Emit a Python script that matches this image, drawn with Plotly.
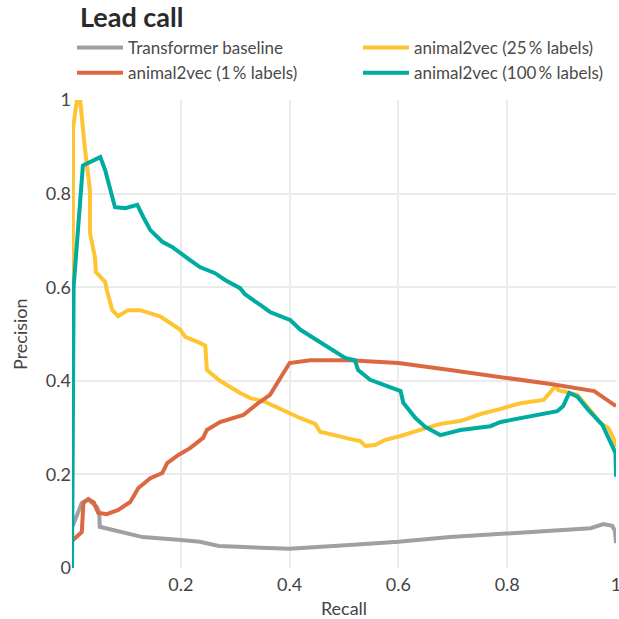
import plotly.graph_objects as go

# Transformer baseline
base_r = [0.0, 0.002, 0.018, 0.03, 0.046, 0.05, 0.051, 0.09, 0.13, 0.2, 0.235, 0.27, 0.345, 0.4, 0.51, 0.6, 0.695, 0.79, 0.88, 0.953, 0.977, 0.993, 0.998, 1.0]
base_p = [0.09, 0.092, 0.139, 0.147, 0.13, 0.118, 0.088, 0.077, 0.066, 0.06, 0.056, 0.047, 0.043, 0.041, 0.049, 0.056, 0.066, 0.073, 0.079, 0.085, 0.094, 0.09, 0.08, 0.053]

# animal2vec (1 % labels)
a1_r = [0.0, 0.002, 0.018, 0.021, 0.03, 0.04, 0.048, 0.064, 0.085, 0.107, 0.122, 0.144, 0.166, 0.175, 0.195, 0.217, 0.241, 0.248, 0.272, 0.315, 0.343, 0.364, 0.4, 0.438, 0.51, 0.6, 0.695, 0.79, 0.88, 0.96, 1.0]
a1_p = [0.06, 0.06, 0.077, 0.139, 0.147, 0.14, 0.118, 0.115, 0.124, 0.141, 0.171, 0.192, 0.203, 0.224, 0.241, 0.256, 0.278, 0.295, 0.312, 0.327, 0.353, 0.37, 0.438, 0.444, 0.444, 0.438, 0.423, 0.408, 0.393, 0.378, 0.346]

# animal2vec (25 % labels)
a25_r = [0.0, 0.002, 0.009, 0.015, 0.024, 0.033, 0.033, 0.042, 0.044, 0.061, 0.064, 0.074, 0.085, 0.103, 0.125, 0.162, 0.199, 0.208, 0.235, 0.245, 0.248, 0.272, 0.309, 0.328, 0.355, 0.379, 0.42, 0.447, 0.456, 0.511, 0.53, 0.539, 0.557, 0.576, 0.604, 0.64, 0.677, 0.714, 0.751, 0.788, 0.824, 0.867, 0.889, 0.894, 0.929, 0.957, 0.971, 0.986, 0.995, 1.0]
a25_p = [0.06, 0.94, 1.0, 1.0, 0.893, 0.808, 0.716, 0.665, 0.632, 0.611, 0.594, 0.551, 0.538, 0.551, 0.551, 0.538, 0.509, 0.494, 0.481, 0.475, 0.423, 0.4, 0.374, 0.363, 0.355, 0.342, 0.32, 0.308, 0.291, 0.276, 0.271, 0.261, 0.263, 0.274, 0.282, 0.295, 0.308, 0.314, 0.329, 0.34, 0.352, 0.359, 0.389, 0.38, 0.37, 0.331, 0.31, 0.299, 0.278, 0.259]

# animal2vec (100 % labels)
a100_r = [0.0, 0.001, 0.003, 0.02, 0.052, 0.061, 0.079, 0.098, 0.12, 0.131, 0.144, 0.166, 0.184, 0.217, 0.235, 0.263, 0.282, 0.309, 0.318, 0.346, 0.364, 0.392, 0.401, 0.42, 0.438, 0.456, 0.484, 0.502, 0.52, 0.526, 0.548, 0.576, 0.604, 0.609, 0.631, 0.65, 0.677, 0.714, 0.769, 0.788, 0.843, 0.892, 0.903, 0.914, 0.929, 0.949, 0.975, 0.986, 0.999, 1.0]
a100_p = [0.0, 0.4, 0.6, 0.86, 0.878, 0.85, 0.771, 0.769, 0.776, 0.75, 0.722, 0.697, 0.686, 0.658, 0.643, 0.63, 0.615, 0.598, 0.585, 0.562, 0.547, 0.534, 0.53, 0.509, 0.496, 0.483, 0.462, 0.449, 0.444, 0.423, 0.402, 0.391, 0.378, 0.353, 0.321, 0.301, 0.284, 0.295, 0.303, 0.312, 0.325, 0.335, 0.346, 0.374, 0.366, 0.338, 0.306, 0.28, 0.246, 0.195]

x_ticks = [0.2, 0.4, 0.6, 0.8, 1.0]
x_tick_labels = ["0.2", "0.4", "0.6", "0.8", "1"]
y_ticks = [0, 0.2, 0.4, 0.6, 0.8, 1.0]
y_tick_labels = ["0", "0.2", "0.4", "0.6", "0.8", "1"]

FONT = "Lato"
fig = go.Figure()
series = [
    ("Transformer baseline", base_r, base_p, "#a09fa5", "legend"),
    ("animal2vec (1\u2009% labels)", a1_r, a1_p, "#dc6842", "legend"),
    ("animal2vec (25\u2009% labels)", a25_r, a25_p, "#fec432", "legend2"),
    ("animal2vec (100\u2009% labels)", a100_r, a100_p, "#00aba2", "legend2"),
]
draw_order = [0, 2, 1, 3]
for i in draw_order:
    name, r, p, c, lg = series[i]
    fig.add_trace(go.Scatter(x=r, y=p, mode="lines", name=name, cliponaxis=False,
                             line=dict(color=c, width=4), legend=lg, legendrank=i))

leg_common = dict(orientation="v", xanchor="left", yanchor="top", xref="container",
                  yref="container", y=1 - 30 / 619, traceorder="normal",
                  font=dict(family=FONT, size=17, color="#4a4a4a"),
                  itemwidth=46, tracegroupgap=0, bgcolor="rgba(0,0,0,0)")

fig.update_layout(
    width=619, height=619,
    margin=dict(l=72, r=3, t=100, b=51, autoexpand=False),
    plot_bgcolor="white", paper_bgcolor="white",
    font=dict(family=FONT, color="#444444", size=17),
    title=dict(text="<b>Lead call</b>", x=80 / 619, xref="container", xanchor="left",
               y=1 - 8 / 619, yref="container", yanchor="top",
               font=dict(family=FONT, size=27, color="#2a2a2a")),
    legend=dict(x=72 / 619, **leg_common),
    legend2=dict(x=358 / 619, **leg_common),
    showlegend=True,
    annotations=[dict(text="Precision", textangle=-90, showarrow=False,
                      xref="paper", yref="paper", x=-52 / 544, y=0.5,
                      xanchor="center", yanchor="middle",
                      font=dict(family=FONT, size=18, color="#444444"))],
)
fig.update_xaxes(range=[0, 1], tickvals=x_ticks, ticktext=x_tick_labels,
                 showgrid=True, gridcolor="#ebebeb", gridwidth=2, zeroline=False,
                 showline=False, ticks="", ticklabelstandoff=4, ticklabeloverflow="allow",
                 tickfont=dict(size=18, color="#444444"), automargin=True,
                 title=dict(text="Recall", font=dict(size=18, color="#444444"), standoff=8))
fig.update_yaxes(range=[0, 1], tickvals=y_ticks, ticktext=y_tick_labels,
                 showgrid=True, gridcolor="#ebebeb", gridwidth=2, zeroline=False,
                 showline=False, ticks="", automargin=True, ticklabeloverflow="allow",
                 tickfont=dict(size=18, color="#444444"))

fig.write_html("out.html", config={"displayModeBar": False},
               post_script="document.body.style.margin='0';")
